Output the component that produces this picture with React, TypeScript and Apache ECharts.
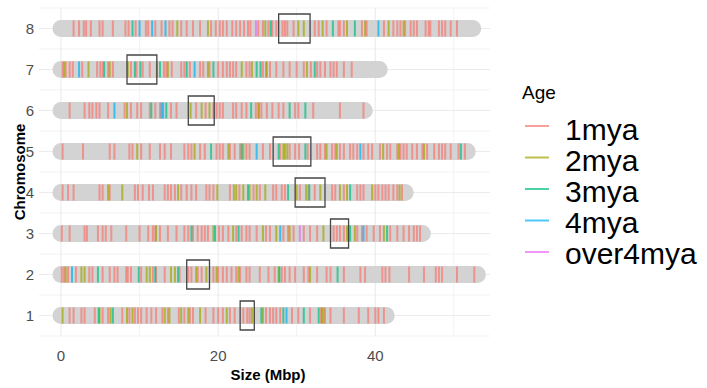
import React, { useEffect, useRef } from "react";
import * as echarts from "echarts";

const chromosomes = ["1", "2", "3", "4", "5", "6", "7", "8"];
const chromLengths = [41.4, 53.0, 46.0, 43.8, 51.7, 38.6, 40.5, 52.4];
const centroStart = [22.8, 16.0, 34.3, 29.8, 27.0, 16.2, 8.4, 27.7];
const centroEnd = [24.6, 18.9, 36.6, 33.6, 31.8, 19.5, 12.2, 31.7];
const ageLabels = ["1mya", "2mya", "3mya", "4mya", "over4mya"];
const ageColors = ["#F8766D", "#A3A500", "#00BF7D", "#00B0F6", "#E76BF3"];
const xTickLabels = [0, 20, 40];
const xGridMajor = [0, 20, 40];
const xGridMinor = [10, 30, 50];

const chr1_1mya = [1.1, 1.6, 2.6, 3.0, 4.3, 5.3, 6.0, 7.8, 8.7, 9.4, 9.8, 10.2, 10.9, 11.5, 12.1, 12.9, 13.6, 15.0, 15.7, 16.4, 16.8, 18.4, 19.4, 20.0, 20.6, 21.5, 22.1, 23.2, 23.7, 24.0, 26.1, 26.6, 27.0, 27.4, 27.9, 29.4, 30.2, 31.7, 33.1, 33.6, 34.3, 36.0, 37.9, 39.1, 40.0, 40.4, 41.1];
const chr1_2mya = [0.2, 4.9, 6.3, 8.4, 9.1, 13.2, 13.8, 15.3, 16.2, 17.7, 21.1, 24.3, 25.7, 33.2, 33.4];
const chr1_3mya = [4.8, 6.6, 25.5, 28.3, 30.9, 32.8];
const chr1_4mya = [28.7];
const chr1_over4mya: number[] = [];

const chr2_1mya = [0.1, 0.4, 0.9, 1.9, 3.6, 4.0, 5.3, 6.2, 6.8, 7.2, 8.3, 8.5, 8.9, 10.2, 11.7, 12.1, 13.2, 15.1, 16.2, 16.6, 17.4, 17.9, 19.4, 20.0, 20.6, 21.1, 21.7, 22.3, 22.8, 23.6, 24.0, 25.3, 26.4, 27.2, 28.1, 28.5, 29.1, 29.8, 30.9, 31.5, 32.6, 33.8, 34.3, 36.0, 38.1, 38.7, 40.9, 41.3, 41.8, 44.3, 46.2, 47.7, 48.1, 48.5, 50.4, 52.6];
const chr2_2mya = [0.6, 2.6, 3.0, 10.9, 11.3, 14.0, 14.5, 17.2, 18.5, 19.8, 22.6, 27.7, 31.7];
const chr2_3mya = [4.7, 9.9, 12.0, 14.9, 27.8, 35.2];
const chr2_4mya = [1.4];
const chr2_over4mya: number[] = [];

const chr3_1mya = [0.1, 1.1, 3.0, 3.3, 4.7, 5.3, 5.7, 6.4, 8.3, 10.0, 11.1, 11.7, 12.0, 12.6, 13.6, 14.7, 15.7, 16.2, 16.8, 17.4, 17.9, 18.3, 18.7, 20.1, 20.6, 21.3, 22.3, 23.0, 23.6, 24.0, 24.9, 26.1, 26.6, 28.3, 28.9, 29.6, 30.9, 31.7, 32.6, 34.7, 35.1, 35.5, 36.0, 37.7, 38.3, 38.9, 39.8, 40.6, 41.9, 42.8, 43.6, 44.3, 44.9, 45.3, 45.7];
const chr3_2mya = [12.1, 19.4, 21.9, 25.7, 27.4, 29.1, 33.4, 36.4, 37.4, 41.1];
const chr3_3mya = [16.6, 19.6, 22.6, 36.8, 41.5];
const chr3_4mya = [27.9, 38.5];
const chr3_over4mya = [30.4];

const chr4_1mya = [0.2, 0.9, 1.6, 4.9, 5.3, 6.2, 9.4, 9.8, 10.4, 11.2, 11.7, 13.2, 13.6, 14.0, 14.5, 15.3, 16.0, 16.6, 17.2, 18.5, 18.9, 19.4, 21.5, 22.7, 24.5, 25.3, 27.0, 27.4, 28.1, 28.5, 30.4, 31.5, 32.3, 34.5, 34.9, 36.0, 37.7, 38.1, 38.5, 40.0, 40.4, 40.9, 41.3, 41.7, 42.3, 42.8, 43.4];
const chr4_2mya = [6.0, 7.8, 14.9, 19.9, 22.0, 22.3, 23.2, 24.0, 24.9, 26.0, 30.0, 31.2, 33.0, 35.5, 36.4, 39.6, 43.1];
const chr4_3mya = [23.8, 28.9, 31.6, 36.8];
const chr4_4mya: number[] = [];
const chr4_over4mya: number[] = [];

const chr5_1mya = [0.2, 2.8, 6.2, 6.8, 8.7, 9.1, 10.2, 11.3, 12.6, 13.2, 14.0, 15.7, 16.2, 16.6, 17.7, 18.3, 19.8, 20.2, 20.6, 21.5, 22.1, 22.8, 23.6, 24.0, 25.7, 26.6, 27.9, 29.1, 29.8, 30.3, 31.4, 32.6, 33.0, 33.6, 34.5, 34.9, 35.5, 36.0, 36.8, 37.2, 37.7, 38.5, 39.1, 39.6, 40.6, 41.5, 41.9, 42.8, 43.2, 43.6, 44.0, 44.7, 45.3, 46.0, 46.6, 47.5, 48.1, 48.5, 48.9, 49.6, 50.6, 51.4];
const chr5_2mya = [9.7, 17.0, 21.3, 23.2, 28.3, 28.5, 28.8, 33.8, 35.1, 41.0, 43.0, 46.2];
const chr5_3mya = [19.1, 23.0, 27.7, 31.1, 50.9];
const chr5_4mya = [24.9, 38.1];
const chr5_over4mya: number[] = [];

const chr6_1mya = [1.1, 3.0, 3.6, 4.0, 4.5, 4.9, 6.0, 8.1, 8.9, 9.7, 10.2, 11.3, 12.0, 12.6, 14.0, 14.7, 17.2, 18.4, 19.4, 19.8, 20.2, 20.6, 21.9, 22.3, 23.0, 23.6, 24.8, 25.1, 25.5, 26.2, 26.9, 27.7, 28.3, 29.8, 30.2, 32.1, 35.5, 38.5];
const chr6_2mya = [8.4, 16.5, 17.9, 18.9, 25.2];
const chr6_3mya = [11.5, 13.4, 24.2, 29.1, 31.1];
const chr6_4mya = [6.8, 12.8, 13.0];
const chr6_over4mya: number[] = [];

const chr7_1mya = [0.2, 0.6, 1.1, 1.5, 2.7, 4.6, 5.0, 5.3, 6.0, 6.6, 8.9, 9.6, 10.4, 11.3, 13.1, 13.4, 14.1, 15.3, 15.7, 16.4, 17.7, 18.1, 18.9, 20.0, 20.6, 21.1, 21.5, 21.9, 22.3, 23.6, 24.0, 25.7, 26.2, 26.6, 27.4, 28.3, 29.1, 30.0, 30.9, 31.8, 32.6, 33.0, 33.6, 34.3, 34.7, 35.1, 36.0, 37.0];
const chr7_2mya = [0.4, 3.5, 6.2, 8.5, 12.2, 13.6, 18.7, 23.0, 24.3, 26.1, 31.3];
const chr7_3mya = [5.5, 9.4, 10.1, 12.6, 16.0, 19.4, 24.9, 25.4, 32.3];
const chr7_4mya = [2.3, 17.0];
const chr7_over4mya: number[] = [];

const chr8_1mya = [1.6, 2.3, 2.9, 3.2, 3.8, 4.9, 5.3, 6.6, 8.2, 8.6, 9.5, 10.8, 11.1, 12.0, 12.8, 13.8, 14.2, 15.3, 16.0, 16.8, 17.7, 19.1, 19.7, 20.2, 20.6, 21.1, 21.8, 22.3, 22.8, 23.3, 23.8, 24.1, 25.1, 25.7, 26.4, 26.9, 27.4, 28.2, 28.5, 28.8, 29.6, 32.3, 32.8, 33.8, 35.3, 35.5, 36.0, 38.3, 38.9, 41.1, 42.3, 42.8, 43.2, 43.8, 44.5, 44.9, 45.3, 46.4, 46.8, 47.0, 48.1, 48.5, 48.9, 49.6, 50.4];
const chr8_2mya = [14.8, 18.7, 26.0, 30.2, 30.9, 33.3, 36.4, 38.7, 41.7, 43.6];
const chr8_3mya = [9.1, 26.7, 34.6, 37.4];
const chr8_4mya = [10.0, 11.6, 13.3, 40.4];
const chr8_over4mya = [24.8];

const teByChrom = [
  [chr1_1mya, chr1_2mya, chr1_3mya, chr1_4mya, chr1_over4mya],
  [chr2_1mya, chr2_2mya, chr2_3mya, chr2_4mya, chr2_over4mya],
  [chr3_1mya, chr3_2mya, chr3_3mya, chr3_4mya, chr3_over4mya],
  [chr4_1mya, chr4_2mya, chr4_3mya, chr4_4mya, chr4_over4mya],
  [chr5_1mya, chr5_2mya, chr5_3mya, chr5_4mya, chr5_over4mya],
  [chr6_1mya, chr6_2mya, chr6_3mya, chr6_4mya, chr6_over4mya],
  [chr7_1mya, chr7_2mya, chr7_3mya, chr7_4mya, chr7_over4mya],
  [chr8_1mya, chr8_2mya, chr8_3mya, chr8_4mya, chr8_over4mya],
];

const FONT = "Liberation Sans, Arial, sans-serif";

export default function App() {
  const ref = useRef<HTMLDivElement>(null);
  useEffect(() => {
    document.body.style.margin = "0";
    const chart = echarts.init(ref.current!, null, { renderer: "svg" });

    const teSeries = ageLabels.map((age, a) => {
      const data: number[][] = [];
      teByChrom.forEach((lists, ci) => {
        lists[a].forEach((pos) => data.push([pos, ci]));
      });
      return {
        type: "custom",
        name: age,
        coordinateSystem: "cartesian2d",
        encode: { x: 0, y: 1 },
        data,
        silent: true,
        z: 3,
        renderItem: (params: any, api: any) => {
          const p = api.coord([api.value(0), api.value(1)]);
          return {
            type: "rect",
            shape: { x: p[0] - 1, y: p[1] - 8, width: 2, height: 16 },
            style: { fill: ageColors[a], opacity: 0.7 },
          };
        },
      };
    });

    const legendKeyY = [126, 157.5, 189, 220.5, 252];
    const legendTextY = [129, 160, 191, 222, 253];
    const legendGraphics: any[] = [
      {
        type: "text",
        x: 522,
        y: 92,
        style: { text: "Age", fontSize: 19, fontFamily: FONT, fill: "#000", textAlign: "left", textVerticalAlign: "middle" },
      },
    ];
    ageLabels.forEach((age, a) => {
      legendGraphics.push({
        type: "line",
        shape: { x1: 525, y1: legendKeyY[a], x2: 549, y2: legendKeyY[a] },
        style: { stroke: ageColors[a], lineWidth: 2, opacity: 0.7 },
      });
      legendGraphics.push({
        type: "text",
        x: 565,
        y: legendTextY[a],
        style: { text: age, fontSize: 30, lineHeight: 28, fontFamily: FONT, fill: "#000", textAlign: "left", textVerticalAlign: "middle" },
      });
    });

    const option: any = {
      animation: false,
      backgroundColor: "#ffffff",
      grid: { left: 39, right: 217, top: 8, bottom: 52 },
      xAxis: {
        type: "value",
        min: -2.8,
        max: 54.6,
        axisLine: { show: false },
        axisTick: { show: false },
        splitLine: { show: false },
        axisLabel: { customValues: xTickLabels, color: "#4D4D4D", fontSize: 15, margin: 12, fontFamily: FONT },
      },
      yAxis: {
        type: "category",
        data: chromosomes,
        axisLine: { show: false },
        axisTick: { show: false },
        splitLine: { show: false },
        axisLabel: { color: "#4D4D4D", fontSize: 15, margin: 5, fontFamily: FONT },
      },
      graphic: [
        {
          type: "text",
          x: 19.5,
          y: 172,
          rotation: Math.PI / 2,
          style: { text: "Chromosome", fontSize: 15, fontWeight: "bold", fontFamily: FONT, fill: "#000", textAlign: "center", textVerticalAlign: "middle" },
        },
        {
          type: "text",
          x: 268,
          y: 374,
          style: { text: "Size (Mbp)", fontSize: 15, fontWeight: "bold", fontFamily: FONT, fill: "#000", textAlign: "center", textVerticalAlign: "middle" },
        },
        ...legendGraphics,
      ],
      series: [
        {
          type: "custom",
          coordinateSystem: "cartesian2d",
          data: [[0, 0]],
          silent: true,
          z: 0,
          renderItem: (params: any, api: any) => {
            const cs = params.coordSys;
            const band = api.size([0, 1])[1];
            const children: any[] = [];
            xGridMinor.forEach((v) => {
              const x = api.coord([v, 0])[0];
              children.push({ type: "line", shape: { x1: x, y1: cs.y, x2: x, y2: cs.y + cs.height }, style: { stroke: "#EBEBEB", lineWidth: 0.6 } });
            });
            xGridMajor.forEach((v) => {
              const x = api.coord([v, 0])[0];
              children.push({ type: "line", shape: { x1: x, y1: cs.y, x2: x, y2: cs.y + cs.height }, style: { stroke: "#EBEBEB", lineWidth: 1.1 } });
            });
            chromosomes.forEach((c, i) => {
              const y = api.coord([0, i])[1];
              children.push({ type: "line", shape: { x1: cs.x, y1: y, x2: cs.x + cs.width, y2: y }, style: { stroke: "#EBEBEB", lineWidth: 1.1 } });
              children.push({ type: "line", shape: { x1: cs.x, y1: y + band / 2, x2: cs.x + cs.width, y2: y + band / 2 }, style: { stroke: "#EBEBEB", lineWidth: 0.6 } });
              if (i === chromosomes.length - 1) {
                children.push({ type: "line", shape: { x1: cs.x, y1: y - band / 2, x2: cs.x + cs.width, y2: y - band / 2 }, style: { stroke: "#EBEBEB", lineWidth: 0.6 } });
              }
            });
            return { type: "group", children };
          },
        },
        {
          type: "custom",
          coordinateSystem: "cartesian2d",
          encode: { x: 0, y: 1 },
          data: chromLengths.map((len, i) => [len, i]),
          silent: true,
          z: 1,
          renderItem: (params: any, api: any) => {
            const idx = api.value(1);
            const p0 = api.coord([0, idx]);
            const p1 = api.coord([api.value(0), idx]);
            const r = 8.5;
            return {
              type: "rect",
              shape: { x: p0[0] - r, y: p0[1] - r, width: p1[0] - p0[0] + 2 * r, height: 2 * r, r },
              style: { fill: "#D3D3D3" },
            };
          },
        },
        ...teSeries,
        {
          type: "custom",
          coordinateSystem: "cartesian2d",
          encode: { x: [0, 1], y: 2 },
          data: centroStart.map((s, i) => [s, centroEnd[i], i]),
          silent: true,
          z: 5,
          renderItem: (params: any, api: any) => {
            const idx = api.value(2);
            const a = api.coord([api.value(0), idx]);
            const b = api.coord([api.value(1), idx]);
            return {
              type: "rect",
              shape: { x: a[0], y: a[1] - 14.5, width: b[0] - a[0], height: 29 },
              style: { fill: "none", stroke: "#454545", lineWidth: 1.3 },
            };
          },
        },
      ],
    };
    chart.setOption(option);
    return () => chart.dispose();
  }, []);
  return <div ref={ref} style={{ width: 707, height: 388 }} />;
}
